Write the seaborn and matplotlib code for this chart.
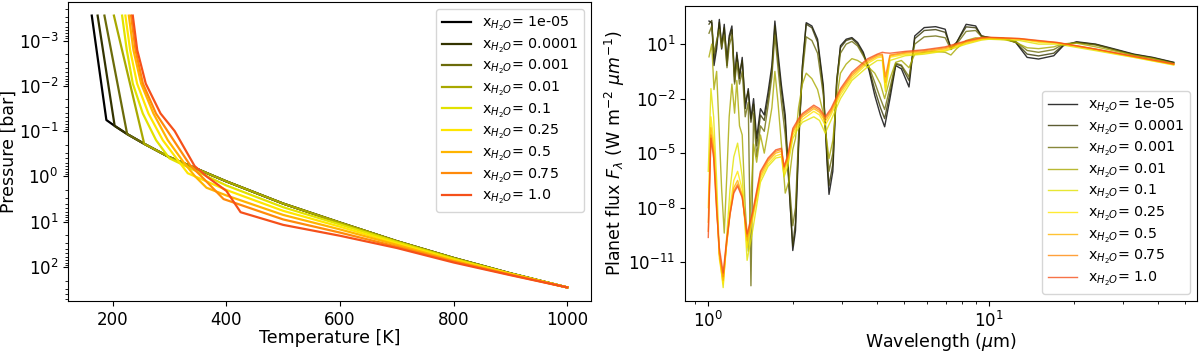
import numpy as np
import pandas as pd
import matplotlib
matplotlib.use('Agg')
import matplotlib.pyplot as plt
import seaborn as sns

# water mixing ratios and their colours
mix_labels = ['1e-05', '0.0001', '0.001', '0.01', '0.1', '0.25', '0.5', '0.75', '1.0']
mix_colors = ['#000000', '#333300', '#6b6b0a', '#a8a800', '#e2e200',
              '#ffe600', '#ffb400', '#ff8a0a', '#f5501a']

# ---- P-T profiles (left), temperature in K, log10 pressure in bar ----
T_1e5 = [163, 188.7, 203.3, 225.3, 255.3, 298.7, 400, 500, 600, 700, 800, 900, 1000]
logP_1e5 = [-3.55, -1.245, -1.115, -0.935, -0.72, -0.43, 0.11, 0.6, 1.02, 1.43, 1.8, 2.14, 2.45]
T_1e4 = [173.3, 203.3, 225.3, 255.3, 298.7, 400, 500, 600, 700, 800, 900, 1000]
logP_1e4 = [-3.55, -1.115, -0.935, -0.72, -0.43, 0.11, 0.6, 1.02, 1.43, 1.8, 2.14, 2.45]
T_1e3 = [185.3, 225.3, 255.3, 298.7, 400, 500, 600, 700, 800, 900, 1000]
logP_1e3 = [-3.55, -0.935, -0.72, -0.43, 0.11, 0.6, 1.02, 1.43, 1.8, 2.14, 2.45]
T_1e2 = [202, 255.3, 298.7, 400, 500, 600, 700, 800, 900, 1000]
logP_1e2 = [-3.55, -0.72, -0.43, 0.11, 0.6, 1.02, 1.43, 1.8, 2.14, 2.45]
T_01 = [216.4, 224.6, 235.2, 252.8, 276.2, 299.6, 400, 500, 600, 700, 800, 900, 1000]
logP_01 = [-3.55, -2.79, -2.05, -1.39, -0.8, -0.4, 0.2, 0.68, 1.06, 1.45, 1.82, 2.15, 2.45]
T_025 = [222.2, 230.5, 242.8, 262.7, 288, 314.4, 332, 400, 500, 600, 700, 800, 900, 1000]
logP_025 = [-3.55, -2.79, -2.05, -1.39, -0.8, -0.36, -0.07, 0.3, 0.76, 1.11, 1.48, 1.84, 2.15, 2.45]
T_05 = [228.2, 236.3, 249.8, 271.5, 296.8, 326, 345, 365, 400, 500, 600, 700, 800, 900, 1000]
logP_05 = [-3.55, -2.79, -2.05, -1.39, -0.8, -0.29, 0.0, 0.25, 0.42, 0.85, 1.17, 1.51, 1.86, 2.16, 2.45]
T_075 = [232.2, 240, 253, 276, 307, 336, 360, 395, 500, 600, 700, 800, 900, 1000]
logP_075 = [-3.55, -2.79, -2.05, -1.39, -0.8, -0.25, 0.05, 0.5, 0.95, 1.24, 1.55, 1.88, 2.17, 2.45]
T_1 = [235.2, 243, 258, 284, 309, 344, 365, 400, 425, 500, 600, 700, 800, 900, 1000]
logP_1 = [-3.55, -2.79, -2.05, -1.39, -1.0, -0.23, 0.0, 0.32, 0.79, 1.07, 1.31, 1.58, 1.9, 2.18, 2.45]

# ---- emission spectra (right), wavelength in micron, log10 flux ----
wl_dark = [1.006, 1.029, 1.048, 1.071, 1.095, 1.116, 1.14, 1.166, 1.187, 1.214,
           1.241, 1.264, 1.292, 1.321, 1.354, 1.388, 1.419, 1.45, 1.487, 1.534,
           1.583, 1.633, 1.685, 1.727, 1.771, 1.822, 1.88, 1.94, 2.0, 2.045,
           2.097, 2.164, 2.233, 2.339, 2.451, 2.569, 2.651, 2.692, 2.778, 2.867,
           2.957, 3.099, 3.248, 3.403, 3.567, 3.739, 3.917, 4.105, 4.249, 4.438,
           4.652, 4.875, 5.189, 5.438, 5.88, 6.457, 6.982, 7.317, 7.668, 8.291,
           8.965, 9.395, 10.0, 11.33, 12.45, 13.67, 15.01, 17.01, 18.39, 20.52,
           23.99, 28.04, 32.78, 38.32, 45.5]
logF_1e5 = [2.27, 2.18, -0.18, 0.73, 2.36, 0.73, 2.09, -0.18, 1.45, 2.0,
            -1.09, 0.55, -0.9, 0.27, -2.55, -1.45, -3.09, -2.0, -4.18, -2.55,
            -2.9, -1.64, -0.18, 2.27, 0.55, -1.27, -2.9, -6.73, -10.36, -9.27,
            -4.73, -0.18, 2.18, 2.0, 1.27, -1.27, -5.64, -7.27, -6.0, -1.09,
            0.91, 1.27, 1.36, 1.09, 0.55, -0.45, -1.82, -2.91, -3.55, -2.0,
            -0.18, -0.36, -1.36, 1.45, 1.91, 1.96, 1.82, 0.73, 1.09, 2.09,
            2.0, 1.45, 1.36, 1.31, 1.09, 0.27, 0.18, 0.36, 0.91, 1.13,
            1.0, 0.73, 0.45, 0.27, 0.0]
logF_1e4 = [2.1, 2.3, 0.2, 1.0, 2.2, 1.0, 1.9, 0.2, 1.3, 1.8,
            -0.8, 0.4, -0.6, 0.1, -2.2, -1.6, -3.3, -2.3, -4.6, -2.9,
            -3.2, -2.0, -0.5, 2.0, 0.2, -1.6, -3.3, -6.9, -10.1, -8.8,
            -4.4, -0.3, 2.1, 1.9, 1.1, -1.5, -5.3, -6.8, -5.6, -1.0,
            0.8, 1.2, 1.3, 1.0, 0.45, -0.35, -1.5, -2.5, -3.1, -1.7,
            -0.1, -0.2, -1.0, 1.3, 1.75, 1.8, 1.65, 0.8, 1.1, 1.95,
            1.9, 1.45, 1.36, 1.3, 1.1, 0.45, 0.35, 0.5, 0.95, 1.1,
            0.98, 0.7, 0.43, 0.25, -0.02]
logF_1e3 = [1.6, 2.0, 0.5, 1.2, 1.8, 0.8, 1.5, -0.3, 0.9, 1.5,
            -1.2, 0.0, -1.2, -0.5, -3.0, -2.2, -12.3, -2.8, -5.2, -3.5,
            -3.8, -2.4, -0.8, 1.5, -0.3, -2.2, -4.0, -6.5, -9.0, -8.0,
            -4.0, -0.6, 1.4, 1.2, 0.5, -1.8, -4.8, -6.0, -5.0, -1.2,
            0.5, 1.0, 1.15, 0.9, 0.35, -0.25, -1.1, -2.0, -2.6, -1.4,
            -0.05, -0.15, -0.8, 1.0, 1.4, 1.45, 1.35, 0.7, 1.0, 1.7,
            1.75, 1.42, 1.36, 1.3, 1.15, 0.65, 0.55, 0.7, 1.0, 1.08,
            0.95, 0.68, 0.4, 0.22, -0.05]
logF_1e2 = [0.3, 1.0, -1.5, -0.5, -4.0, -7.0, -9.4, -6.0, -3.0, -1.2,
            -2.8, -1.0, -3.5, -4.0, -8.0, -10.4, -7.5, -4.5, -5.5, -4.0,
            -5.0, -3.8, -2.5, -0.5, -2.2, -4.5, -7.2, -6.5, -4.8, -4.2,
            -2.5, -1.2, -0.6, -0.9, -1.5, -2.8, -4.5, -5.3, -4.3, -2.0,
            -0.6, -0.1, 0.2, 0.1, -0.1, -0.3, -0.6, -1.2, -2.0, -0.9,
            0.0, 0.1, -0.3, 0.45, 0.55, 0.6, 0.55, 0.4, 0.75, 1.2,
            1.35, 1.32, 1.3, 1.25, 1.1, 0.8, 0.75, 0.85, 1.02, 1.05,
            0.85, 0.62, 0.38, 0.2, -0.08]

wl_light = [1.0, 1.022, 1.045, 1.071, 1.095, 1.13, 1.158, 1.195, 1.233, 1.272,
            1.321, 1.375, 1.441, 1.534, 1.633, 1.739, 1.822, 1.862, 1.921, 2.0,
            2.097, 2.164, 2.376, 2.49, 2.61, 2.735, 2.957, 3.248, 3.681, 4.0,
            4.169, 4.276, 4.438, 5.029, 5.88, 6.982, 8.291, 9.395, 10.0, 12.84,
            15.01, 17.55, 23.99, 32.78, 45.5]
logF_01 = [-6.0, -1.45, -3.0, -6.5, -10.5, -12.4, -10.0, -7.0, -5.2, -4.45,
           -6.3, -10.9, -9.2, -6.6, -5.73, -5.27, -5.2, -6.3, -5.7, -4.2,
           -3.6, -3.3, -3.0, -3.2, -3.9, -3.2, -2.0, -1.0, -0.27, 0.1,
           0.1, -1.6, 0.1, 0.36, 0.45, 0.62, 1.0, 1.22, 1.27, 1.2,
           1.0, 1.0, 0.64, 0.27, -0.15]
logF_025 = [-8.0, -3.0, -4.3, -7.5, -10.8, -12.2, -10.3, -8.0, -6.5, -6.0,
            -7.0, -10.2, -8.6, -6.4, -5.6, -5.15, -5.05, -6.1, -5.45, -4.0,
            -3.45, -3.15, -2.7, -2.9, -3.45, -2.9, -1.8, -0.87, -0.08, 0.25,
            0.3, -1.4, 0.28, 0.43, 0.5, 0.67, 1.05, 1.26, 1.31, 1.27,
            1.1, 1.05, 0.69, 0.29, -0.13]
logF_05 = [-8.8, -3.6, -4.7, -7.8, -10.6, -12.0, -10.3, -8.3, -6.9, -6.5,
           -7.3, -9.8, -8.4, -6.25, -5.45, -5.0, -4.9, -5.9, -5.3, -3.85,
           -3.3, -3.0, -2.55, -2.75, -3.25, -2.75, -1.65, -0.75, 0.02, 0.33,
           0.38, -1.1, 0.35, 0.5, 0.58, 0.74, 1.1, 1.3, 1.34, 1.29,
           1.15, 1.07, 0.71, 0.31, -0.11]
logF_075 = [-9.3, -4.0, -5.0, -8.0, -10.5, -11.8, -10.2, -8.4, -7.1, -6.7,
            -7.4, -9.6, -8.3, -6.1, -5.35, -4.9, -4.8, -5.8, -5.2, -3.75,
            -3.2, -2.9, -2.45, -2.65, -3.1, -2.65, -1.55, -0.65, 0.1, 0.4,
            0.45, -0.8, 0.4, 0.55, 0.64, 0.8, 1.15, 1.33, 1.36, 1.3,
            1.18, 1.08, 0.72, 0.32, -0.1]
logF_1 = [-9.64, -4.18, -5.27, -8.18, -10.2, -11.6, -10.0, -8.36, -7.2, -6.82,
          -7.45, -9.45, -8.18, -6.0, -5.27, -4.82, -4.73, -5.73, -5.09, -3.64,
          -3.1, -2.82, -2.36, -2.55, -3.0, -2.55, -1.45, -0.55, 0.18, 0.45,
          0.55, 0.52, 0.5, 0.6, 0.69, 0.85, 1.18, 1.36, 1.38, 1.31,
          1.2, 1.09, 0.73, 0.33, -0.09]

profiles = [(T_1e5, logP_1e5), (T_1e4, logP_1e4), (T_1e3, logP_1e3), (T_1e2, logP_1e2),
            (T_01, logP_01), (T_025, logP_025), (T_05, logP_05), (T_075, logP_075), (T_1, logP_1)]
spectra = [(wl_dark, logF_1e5), (wl_dark, logF_1e4), (wl_dark, logF_1e3), (wl_dark, logF_1e2),
           (wl_light, logF_01), (wl_light, logF_025), (wl_light, logF_05), (wl_light, logF_075),
           (wl_light, logF_1)]

fig = plt.figure(figsize=(12, 3.54), dpi=100)
ax1 = fig.add_axes([68 / 1200, 53 / 354, 523 / 1200, 299 / 354])
ax2 = fig.add_axes([685 / 1200, 53 / 354, 512 / 1200, 295 / 354])

for (T, logP), lab, c in zip(profiles, mix_labels, mix_colors):
    df = pd.DataFrame({'T': T, 'P': np.power(10.0, logP)})
    sns.lineplot(data=df, x='T', y='P', ax=ax1, color=c, lw=1.6, sort=False,
                 estimator=None, label=r'x$_{H_2O}$= ' + lab)

for (wl, logF), lab, c in zip(spectra, mix_labels, mix_colors):
    df = pd.DataFrame({'wl': wl, 'F': np.power(10.0, logF)})
    sns.lineplot(data=df, x='wl', y='F', ax=ax2, color=c, lw=1.0, alpha=0.8, sort=False,
                 estimator=None, label=r'x$_{H_2O}$= ' + lab)

ax1.set_yscale('log')
ax1.invert_yaxis()
ax1.set_xlabel('Temperature [K]', fontsize=12.5, labelpad=0)
ax1.set_ylabel('Pressure [bar]', fontsize=12.5, labelpad=1)
ax1.tick_params(labelsize=12)
ax1.legend(loc='upper right', fontsize=10.3, labelspacing=0.25)

ax2.set_xscale('log')
ax2.set_yscale('log')
ax2.set_xlabel(r'Wavelength ($\mu$m)', fontsize=12.5, labelpad=0)
ax2.set_ylabel(r'Planet flux $F_\lambda$ (W m$^{-2}$ $\mu m^{-1}$)', fontsize=12.5, labelpad=1)
ax2.tick_params(labelsize=12)
ax2.legend(loc='lower right', fontsize=10.3, labelspacing=0.25)

fig.savefig('out.png', dpi=100)
